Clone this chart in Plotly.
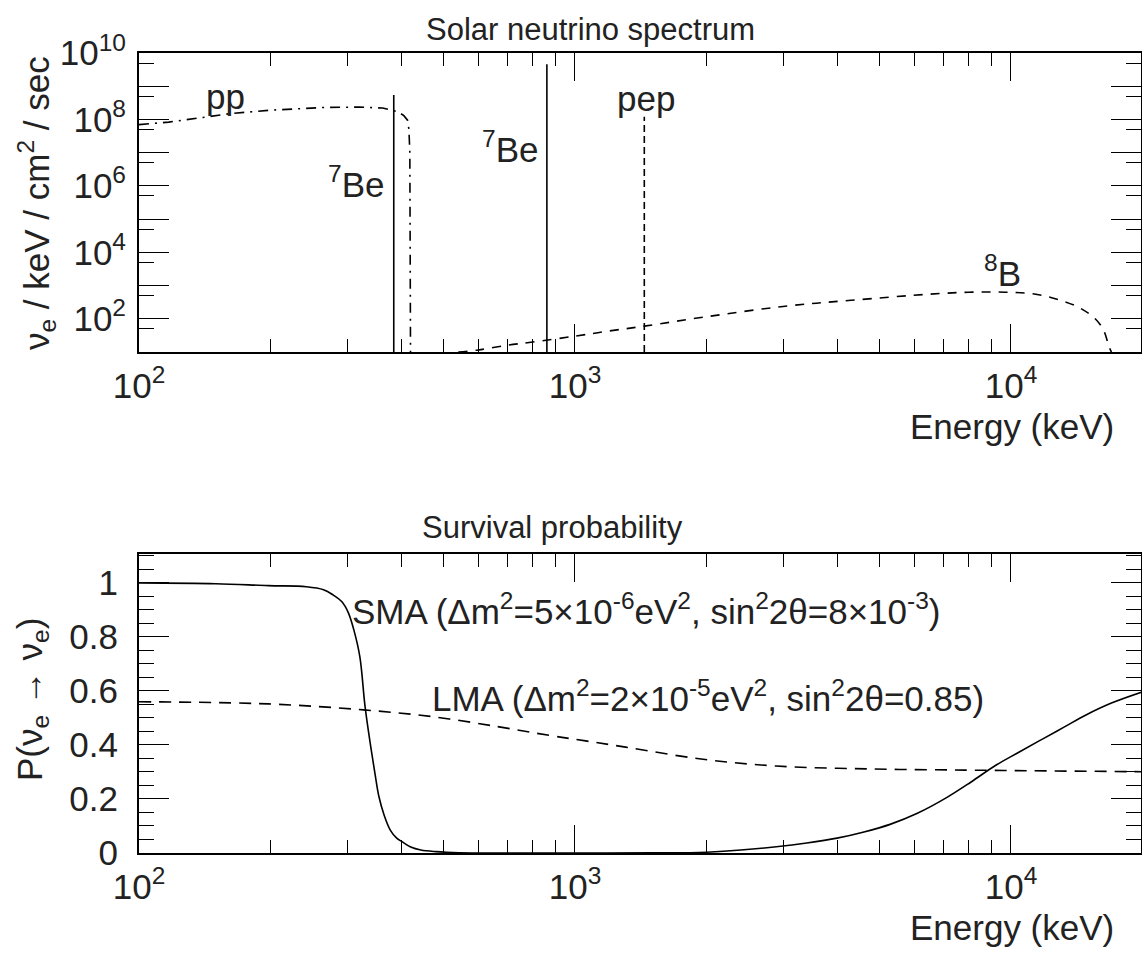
import math
import plotly.graph_objects as go

# ---------------- data: top panel (solar neutrino spectrum) ----------------
pp_energy = [100, 117, 140, 162, 200, 267, 320, 362, 393, 405, 413, 416, 418, 419, 419.5]
pp_flux = [7e7, 8.3e7, 1.15e8, 1.5e8, 1.9e8, 2.3e8, 2.35e8, 2.2e8, 1.7e8, 1.3e8, 9.5e7,
           5e7, 1e7, 1e4, 10]

b8_energy = [540, 600, 700, 800, 1000, 1200, 1442, 2000, 3000, 4300, 6500, 8000, 9700,
             11400, 13000, 14400, 15600, 16300, 16800, 17000]
b8_flux = [10, 11.5, 16, 20, 30, 43, 60, 115, 235, 360, 550, 630, 630, 550, 360, 210,
           100, 46, 14, 10]

line_energy = [384, 862, 1442]          # 7Be, 7Be, pep
line_flux = [5.4e8, 4.6e9, 1.2e8]
line_floor = 10

# ---------------- data: bottom panel (survival probability) ----------------
sma_energy = [100, 150, 198, 242, 265, 279, 292, 302, 311, 321, 330, 340, 348, 355, 365,
              377, 390, 401, 420, 443, 480, 542, 700, 1000, 1500, 1836, 2006, 2400, 2895,
              3400, 3990, 4600, 5280, 6100, 7100, 8100, 9210, 10400, 11720, 13200, 14860,
              17000, 19900]
sma_prob = [1.0, 0.997, 0.99, 0.986, 0.975, 0.955, 0.93, 0.89, 0.826, 0.727, 0.542, 0.394,
            0.29, 0.209, 0.14, 0.085, 0.055, 0.042, 0.022, 0.011, 0.005, 0.001, 0.0, 0.0,
            0.0005, 0.001, 0.003, 0.011, 0.023, 0.037, 0.055, 0.078, 0.106, 0.147, 0.204,
            0.263, 0.324, 0.372, 0.419, 0.465, 0.511, 0.555, 0.595]

lma_energy = [100, 198, 327, 470, 664, 877, 1058, 1306, 1946, 2895, 4780, 7840, 12000, 19900]
lma_prob = [0.560, 0.552, 0.530, 0.505, 0.468, 0.435, 0.415, 0.392, 0.348, 0.322, 0.311,
            0.307, 0.304, 0.301]

# tick labels
x_major = [100, 1000, 10000]
x_major_text = ["10<sup>2</sup>", "10<sup>3</sup>", "10<sup>4</sup>"]
x_minor = [m * d for d in (100, 1000, 10000) for m in range(2, 10)]
ytop_major = [10 ** k for k in range(1, 11)]
ytop_major_text = ["10<sup>%d</sup>" % k if k % 2 == 0 else "" for k in range(1, 11)]
ytop_minor = [5 * 10 ** k for k in range(1, 10)]
ybot_major = [0, 0.2, 0.4, 0.6, 0.8, 1.0]
ybot_major_text = ["0", "0.2", "0.4", "0.6", "0.8", "1"]
ybot_minor = [round(0.05 * i, 2) for i in range(0, 23)]

FONT = "Liberation Sans, Arial, Helvetica, sans-serif"
TXT = "#222222"
FS = 35
W, H = 1142, 954

fig = go.Figure()

lw = 1.6
fig.add_trace(go.Scatter(x=pp_energy, y=pp_flux, mode="lines",
                         line=dict(color="black", width=lw, dash="10px,6px,2px,6px"),
                         xaxis="x", yaxis="y", showlegend=False))
fig.add_trace(go.Scatter(x=b8_energy, y=b8_flux, mode="lines", line_shape="spline",
                         line=dict(color="black", width=lw, dash="9px,8px"),
                         xaxis="x", yaxis="y", showlegend=False))
line_dashes = ["solid", "solid", "7px,4px"]
for e, f, d in zip(line_energy, line_flux, line_dashes):
    fig.add_trace(go.Scatter(x=[e, e], y=[line_floor, f], mode="lines",
                             line=dict(color="black", width=lw, dash=d),
                             xaxis="x", yaxis="y", showlegend=False))

fig.add_trace(go.Scatter(x=sma_energy, y=sma_prob, mode="lines", line_shape="spline",
                         line=dict(color="black", width=lw),
                         xaxis="x2", yaxis="y2", showlegend=False))
fig.add_trace(go.Scatter(x=lma_energy, y=lma_prob, mode="lines", line_shape="spline",
                         line=dict(color="black", width=lw, dash="12px,8px"),
                         xaxis="x2", yaxis="y2", showlegend=False))

# frame geometry (pixels)
L, R = 139, 1141
top_t, top_b = 53, 352
bot_t, bot_b = 554, 853
xdom = [L / W, R / W]
ydom_top = [(H - top_b) / H, (H - top_t) / H]
ydom_bot = [(H - bot_b) / H, (H - bot_t) / H]

xrange_log = [2, math.log10(19870)]

def xaxis_common(anchor, dom):
    return dict(type="log", range=xrange_log, domain=dom, anchor=anchor, automargin=False,
                showline=True, linecolor="black", linewidth=2, mirror="allticks",
                ticks="inside", ticklen=28, tickwidth=1, tickcolor="black",
                tickmode="array", tickvals=x_major, ticktext=x_major_text,
                showgrid=False, zeroline=False,
                minor=dict(tickmode="array", tickvals=x_minor, ticks="inside",
                           ticklen=13, tickwidth=1, tickcolor="black", showgrid=False),
                tickfont=dict(family=FONT, size=FS, color=TXT),
                ticklabelstandoff=2)

fig.update_layout(
    width=W, height=H, margin=dict(l=0, r=0, t=0, b=0, autoexpand=False),
    paper_bgcolor="white", plot_bgcolor="white",
    xaxis=xaxis_common("y", xdom),
    yaxis=dict(type="log", range=[1, 10], domain=ydom_top, anchor="x", automargin=False,
               showline=True, linecolor="black", linewidth=2, mirror="allticks",
               ticks="inside", ticklen=30, tickwidth=1, tickcolor="black",
               tickmode="array", tickvals=ytop_major, ticktext=ytop_major_text,
               showgrid=False, zeroline=False,
               minor=dict(tickmode="array", tickvals=ytop_minor, ticks="inside",
                          ticklen=15, tickwidth=1, tickcolor="black", showgrid=False),
               tickfont=dict(family=FONT, size=FS, color=TXT), ticklabelstandoff=4),
    xaxis2=xaxis_common("y2", xdom),
    yaxis2=dict(range=[0, 1.107], domain=ydom_bot, anchor="x2", automargin=False,
                showline=True, linecolor="black", linewidth=2, mirror="allticks",
                ticks="inside", ticklen=30, tickwidth=1, tickcolor="black",
                tickmode="array", tickvals=ybot_major, ticktext=ybot_major_text,
                showgrid=False, zeroline=False,
                minor=dict(tickmode="array", tickvals=ybot_minor, ticks="inside",
                           ticklen=15, tickwidth=1, tickcolor="black", showgrid=False),
                tickfont=dict(family=FONT, size=FS, color=TXT), ticklabelstandoff=12),
)

def ann(text, x, y, xref, yref, xanchor="center", yanchor="middle", angle=0, size=FS):
    fig.add_annotation(text=text, x=x, y=y, xref=xref, yref=yref, xanchor=xanchor,
                       yanchor=yanchor, showarrow=False, textangle=angle,
                       font=dict(family=FONT, size=size, color=TXT))

def px(xp, yp):
    return xp / W, 1 - yp / H

# titles
ann("Solar neutrino spectrum", *px(590, 30), "paper", "paper", size=31)
ann("Survival probability", *px(552, 527), "paper", "paper", size=31)
# axis titles
ann("Energy (keV)", *px(1116, 426), "paper", "paper", xanchor="right")
ann("Energy (keV)", *px(1116, 927), "paper", "paper", xanchor="right")
ann("ν<sub>e</sub> / keV / cm<sup>2</sup> / sec", *px(36, 203), "paper", "paper", angle=-90)
ann("P(ν<sub>e</sub> → ν<sub>e</sub>)", *px(32, 700), "paper", "paper", angle=-90)

# in-plot labels (log10 coordinates on log axes)
ann("pp", 2.1995, 8.7, "x", "y")
ann("<sup>7</sup>Be", 2.5665, 6.12, "x", "y", xanchor="right")
ann("<sup>7</sup>Be", 2.92, 7.18, "x", "y", xanchor="right")
ann("pep", 3.163, 8.62, "x", "y")
ann("<sup>8</sup>B", 3.98, 3.43, "x", "y")
ann("SMA (Δm<sup>2</sup>=5×10<sup>-6</sup>eV<sup>2</sup>, sin<sup>2</sup>2θ=8×10<sup>-3</sup>)",
    2.484, 0.905, "x2", "y2", xanchor="left")
ann("LMA (Δm<sup>2</sup>=2×10<sup>-5</sup>eV<sup>2</sup>, sin<sup>2</sup>2θ=0.85)",
    2.668, 0.58, "x2", "y2", xanchor="left")

fig.write_html("out.html")
